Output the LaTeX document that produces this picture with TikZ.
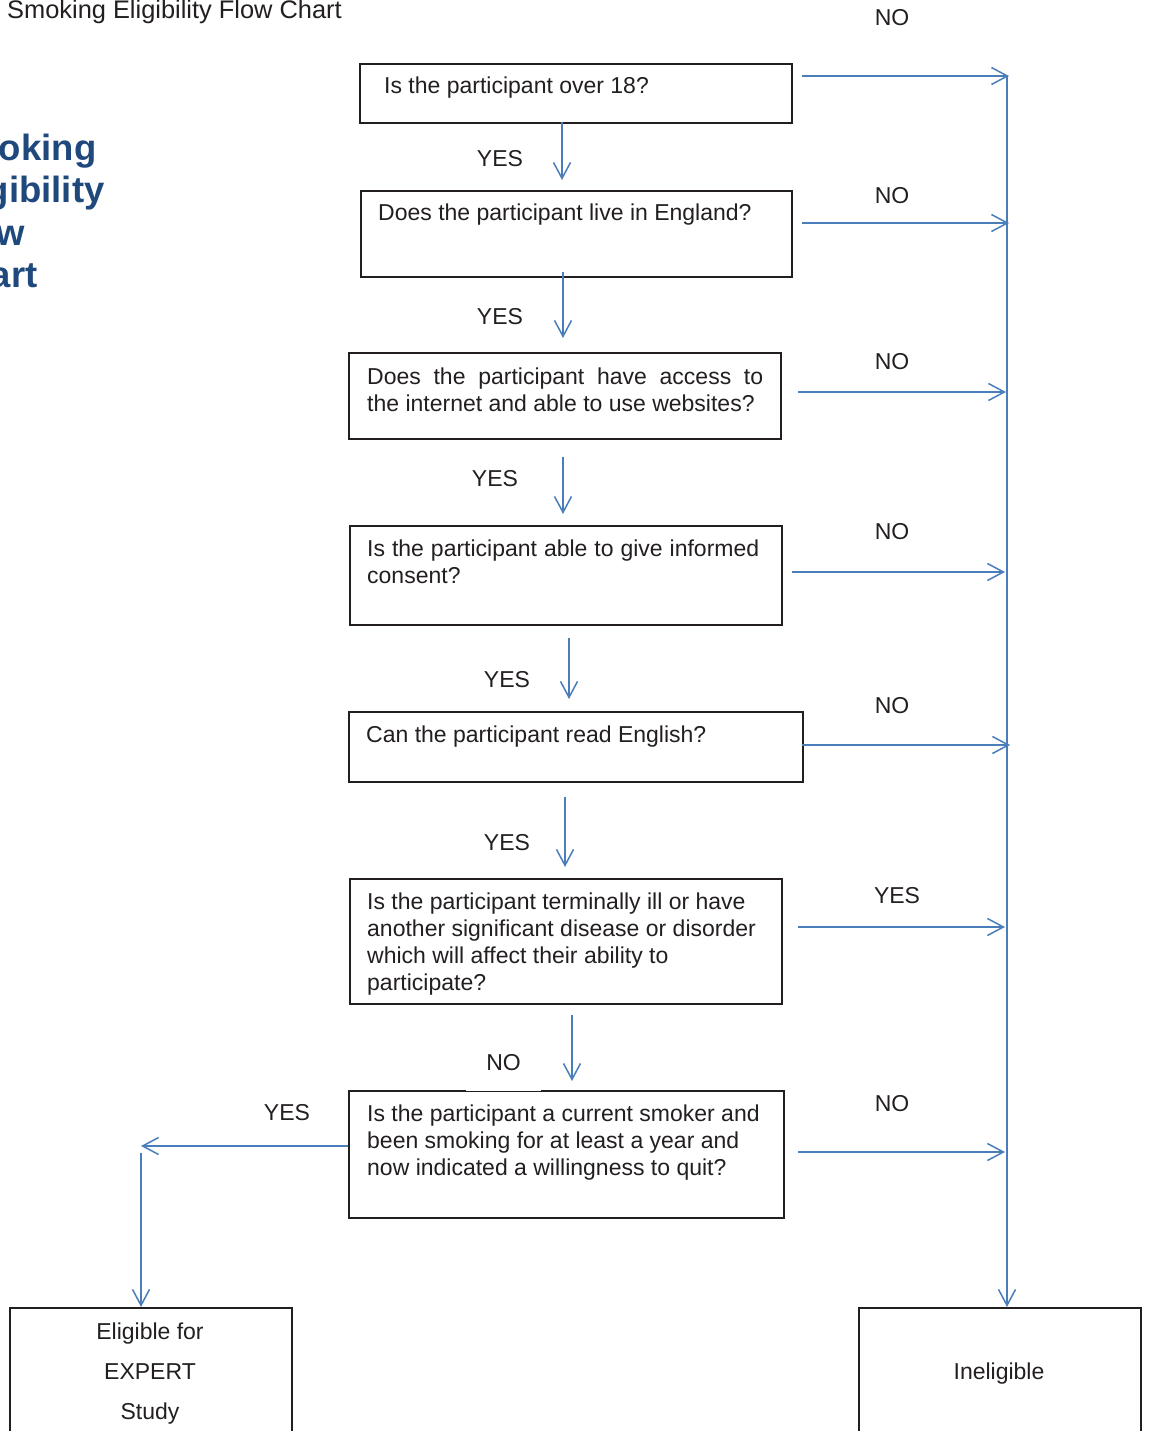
\documentclass[tikz,border=0pt]{standalone}
\usepackage{fontspec}
\setmainfont{Liberation Sans}
\usetikzlibrary{arrows.meta}
\definecolor{arrowblue}{RGB}{74,126,187}
\definecolor{titleblue}{RGB}{31,73,125}
\definecolor{ink}{RGB}{35,31,32}
\begin{document}
\begin{tikzpicture}[x=1pt,y=-1pt,
  box/.style={draw=ink, line width=1.6pt, inner sep=0pt, anchor=north west},
  qtext/.style={anchor=base west, inner sep=0pt, text=ink, font=\fontsize{23}{27}\selectfont, align=left},
  lab/.style={inner sep=0pt, text=ink, font=\fontsize{23}{27}\selectfont},
  flow/.style={draw=arrowblue, line width=1.5pt, -{Straight Barb[length=16pt,width=17pt]}}]
\useasboundingbox (0,0) rectangle (1148,1431);
\clip (0,0) rectangle (1148,1431);
\fill[white] (0,0) rectangle (1148,1431);

% titles
\node[anchor=base west, inner sep=0pt, text=ink, font=\fontsize{25.4}{30}\selectfont] (title) at (7,19) {Smoking Eligibility Flow Chart};
\node[anchor=base west, inner sep=0pt, text=titleblue, align=left, font=\bfseries\fontsize{36.5}{42.5}\selectfont] (bigtitle) at (-58,287.5) {Smoking\\Eligibility\\Flow\\Chart};

% boxes
\node[box, minimum width=432pt, minimum height=59pt] (b1) at (359,63) {};
\node[box, minimum width=431pt, minimum height=86pt] (b2) at (360,190) {};
\node[box, minimum width=432pt, minimum height=86pt] (b3) at (348,352) {};
\node[box, minimum width=432pt, minimum height=99pt] (b4) at (349,525) {};
\node[box, minimum width=454pt, minimum height=70pt] (b5) at (348,711) {};
\node[box, minimum width=432pt, minimum height=125pt] (b6) at (349,878) {};
\node[box, minimum width=435pt, minimum height=127pt] (b7) at (348,1090) {};
\node[box, minimum width=282pt, minimum height=150pt] (elig) at (9,1307) {};
\node[box, minimum width=282pt, minimum height=150pt] (inel) at (858,1307) {};

% box texts
\node[qtext] (t1) at (384,94) {Is the participant over 18?};
\node[qtext] (t2) at (378,221) {Does the participant live in England?};
\node[qtext, text width=396pt, align=justify] (t3) at (367,384) {Does the participant have access to\linebreak the internet and able to use websites?};
\node[qtext, text width=392pt, align=justify] (t4) at (367,556) {Is the participant able to give informed\linebreak consent?};
\node[qtext] (t5) at (366,742) {Can the participant read English?};
\node[qtext] (t6) at (367,990) {Is the participant terminally ill or have\\another significant disease or disorder\\which will affect their ability to\\participate?};
\node[qtext] (t7) at (367,1175) {Is the participant a current smoker and\\been smoking for at least a year and\\now indicated a willingness to quit?};
\node[qtext, anchor=base, align=center, font=\fontsize{23}{40}\selectfont] (te) at (150,1419) {Eligible for\\EXPERT\\Study};
\node[qtext, anchor=base] (ti) at (999,1379) {Ineligible};

% side labels
\node[lab] (l1) at (892,18) {NO};
\node[lab] (l2) at (892,196) {NO};
\node[lab] (l3) at (892,362) {NO};
\node[lab] (l4) at (892,532) {NO};
\node[lab] (l5) at (892,706) {NO};
\node[lab] (l6) at (897,896) {YES};
\node[lab] (l7) at (892,1104) {NO};
\node[lab] (y1) at (500,159) {YES};
\node[lab] (y2) at (500,317) {YES};
\node[lab] (y3) at (495,479) {YES};
\node[lab] (y4) at (507,680) {YES};
\node[lab] (y5) at (507,843) {YES};
\node[lab] (yl) at (287,1113) {YES};

% coordinates for connector ends
\coordinate (r1s) at (802,76);  \coordinate (r1e) at (1009,76);
\coordinate (r2s) at (802,223); \coordinate (r2e) at (1009,223);
\coordinate (r3s) at (798,392); \coordinate (r3e) at (1006,392);
\coordinate (r4s) at (792,572); \coordinate (r4e) at (1005,572);
\coordinate (r5s) at (802,745); \coordinate (r5e) at (1010,745);
\coordinate (r6s) at (798,927); \coordinate (r6e) at (1005,927);
\coordinate (r7s) at (798,1152); \coordinate (r7e) at (1005,1152);
\coordinate (bus) at (1007,76);
\coordinate (d1s) at (562,122);  \coordinate (d1e) at (562,180);
\coordinate (d2s) at (563,272);  \coordinate (d2e) at (563,338);
\coordinate (d3s) at (563,457);  \coordinate (d3e) at (563,514);
\coordinate (d4s) at (569,638);  \coordinate (d4e) at (569,699);
\coordinate (d5s) at (565,797);  \coordinate (d5e) at (565,867);
\coordinate (d6s) at (572,1015); \coordinate (d6e) at (572,1081);
\coordinate (ls) at (348,1146);  \coordinate (le) at (141,1146);
\coordinate (es) at (141,1153);

% connectors
\foreach \i in {1,...,7} {\draw[flow] (r\i s) -- (r\i e);}
\foreach \i in {1,...,6} {\draw[flow] (d\i s) -- (d\i e);}
\draw[flow] (bus) -- (bus |- inel.north);
\draw[flow] (ls) -- (le);
\draw[flow] (es) -- (es |- elig.north);

% label with white ground over the top border of box 7
\node[lab, fill=white, minimum width=75pt, minimum height=56pt] (n6) at (503.5,1063) {NO};
\end{tikzpicture}
\end{document}
